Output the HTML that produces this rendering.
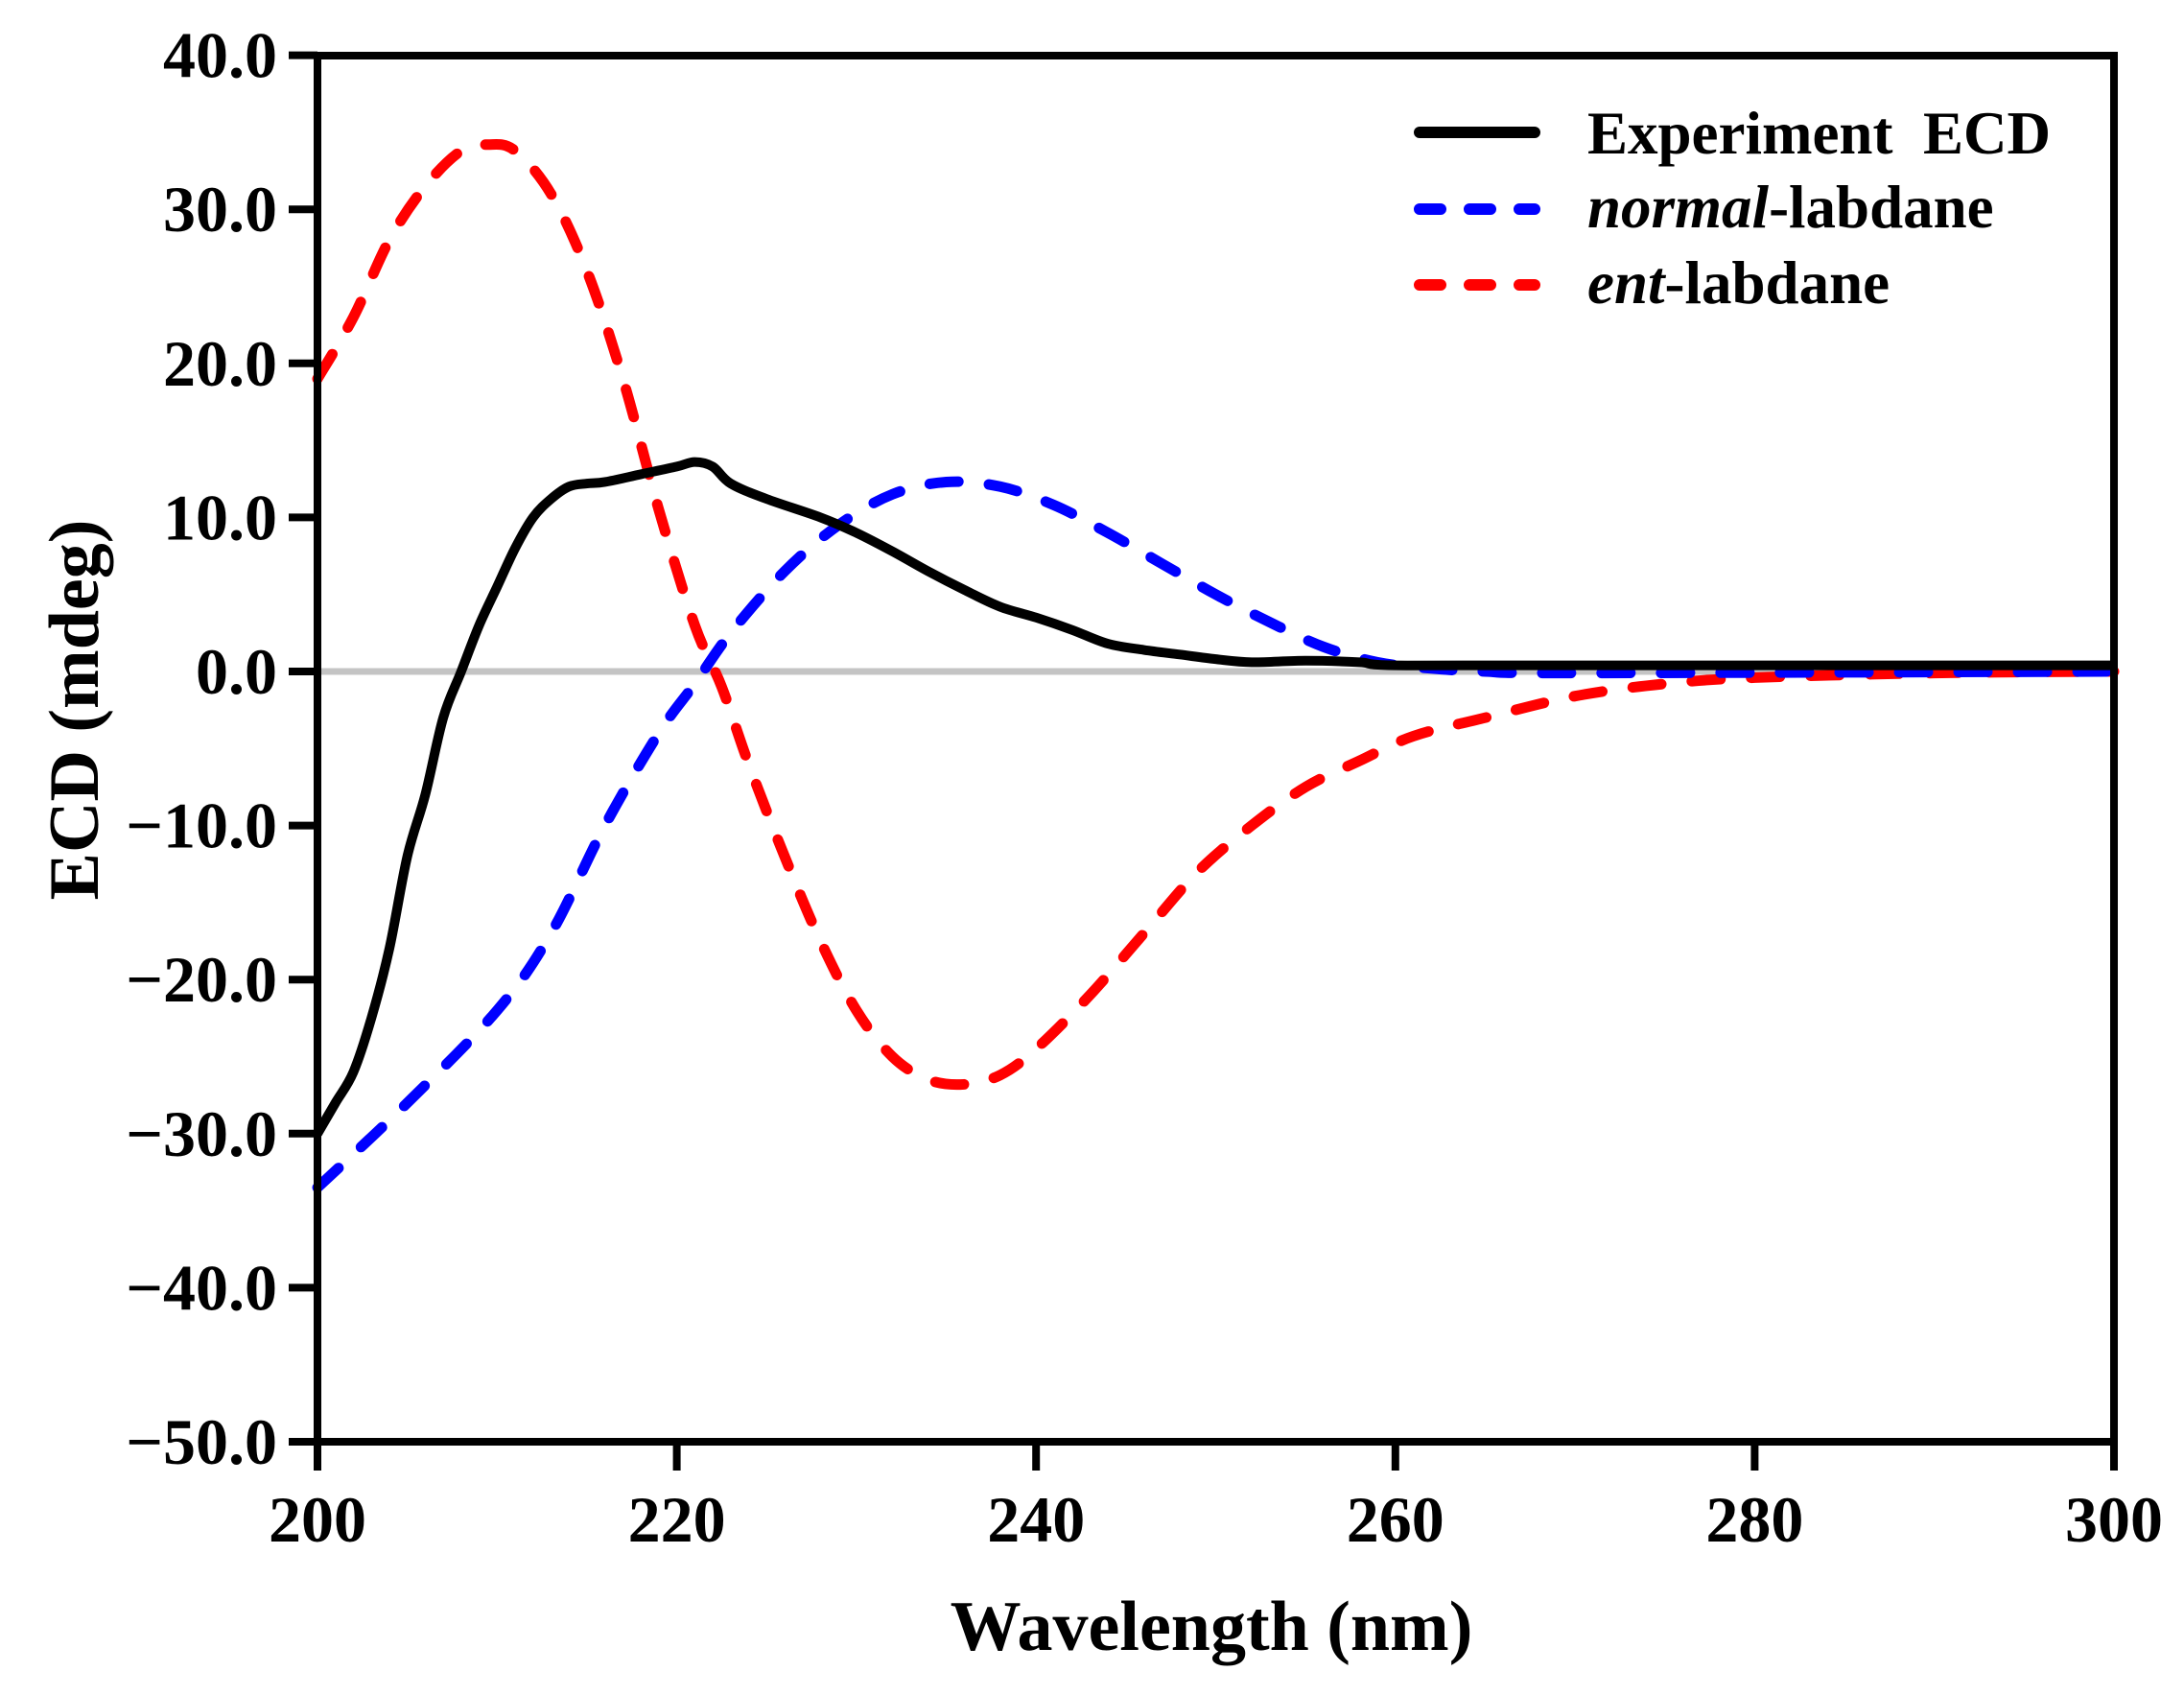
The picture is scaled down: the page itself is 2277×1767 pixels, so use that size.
<!DOCTYPE html>
<html><head><meta charset="utf-8"><style>
html,body{margin:0;padding:0;background:#fff;}
svg{display:block;}
text{font-family:"Liberation Serif",serif;font-weight:bold;fill:#000;}
</style></head><body>
<svg id="s" width="2277" height="1767" viewBox="0 0 2277 1767" xmlns="http://www.w3.org/2000/svg">
<line x1="331" y1="700" x2="2204" y2="700" stroke="#c4c4c4" stroke-width="7"/>
<g id="curves"></g>
<rect x="331" y="58" width="1873" height="1445" fill="none" stroke="#000" stroke-width="8"/>
<g id="ticks" stroke="#000" stroke-width="8"></g>
<g id="labels" font-size="68"></g>
<text x="1263" y="1720" font-size="74" text-anchor="middle">Wavelength (nm)</text>
<text transform="translate(102,740) rotate(-90)" font-size="74" text-anchor="middle">ECD (mdeg)</text>
<line x1="1480" y1="138" x2="1600" y2="138" stroke="#000" stroke-width="12" stroke-linecap="round"/>
<line x1="1480" y1="218" x2="1600" y2="218" stroke="#00f" stroke-width="12" stroke-linecap="round" stroke-dasharray="22 30"/>
<line x1="1480" y1="297" x2="1600" y2="297" stroke="#f00" stroke-width="12" stroke-linecap="round" stroke-dasharray="22 30"/>
<text x="1655" y="160" font-size="63">Experiment&#160; ECD</text>
<text x="1655" y="237" font-size="63"><tspan font-style="italic">normal</tspan>-labdane</text>
<text x="1655" y="316" font-size="63"><tspan font-style="italic">ent</tspan>-labdane</text>
</svg>
<script>
var X=function(v){return 331+(v-200)*18.73;}, Y=function(v){return 700-v*16.06;};
var NS="http://www.w3.org/2000/svg";
var t=document.getElementById('ticks'), l=document.getElementById('labels');
function el(p,n,a,txt){var e=document.createElementNS(NS,n);for(var k in a)e.setAttribute(k,a[k]);if(txt)e.textContent=txt;p.appendChild(e);return e;}
for(var v=-50;v<=40;v+=10){var y=Y(v);el(t,'line',{x1:301,y1:y,x2:331,y2:y});
el(l,'text',{x:289,y:y+23,'text-anchor':'end'},(v<0?'\u2212':'')+Math.abs(v).toFixed(1));}
for(var w=200;w<=300;w+=20){var x=X(w);el(t,'line',{x1:x,y1:1503,x2:x,y2:1533});
el(l,'text',{x:x,y:1607,'text-anchor':'middle'},String(w));}
function path(d){var p=d.map(function(q){return [X(q[0]),Y(q[1])];});var s='M'+p[0][0]+' '+p[0][1];
for(var i=0;i<p.length-1;i++){var a=p[i-1]||p[i],b=p[i],c=p[i+1],e=p[i+2]||c;
s+=' C'+(b[0]+(c[0]-a[0])/6)+' '+(b[1]+(c[1]-a[1])/6)+' '+(c[0]-(e[0]-b[0])/6)+' '+(c[1]-(e[1]-b[1])/6)+' '+c[0]+' '+c[1];}return s;}
var g=document.getElementById('curves');
var red=[[200,19],[202,23],[204,28],[206,31.5],[208,33.8],[209.5,34.2],[211,33.8],[213,31],[215,26],[217,19],[219,10.5],[221,3],[222.5,-1],[224,-6],[226,-12],[228,-17.5],[230,-22],[232,-25],[234,-26.5],[236,-26.8],[238,-26.2],[240,-24.5],[243,-21],[246,-17],[249,-13],[252,-10],[255,-7.5],[258,-5.8],[261,-4.2],[265,-3],[270,-1.6],[275,-0.8],[280,-0.4],[290,-0.1],[300,0]];
var blue=[[200,-33.5],[205,-28],[210,-22],[213,-17],[216,-10],[219,-4],[221,-0.8],[223,2.5],[226,6.5],[229,9.5],[232,11.5],[235,12.3],[238,12],[241,10.8],[244,9],[247,7],[250,5],[253,3.2],[256,1.6],[259,0.6],[262,0.2],[265,0],[270,-0.1],[300,0]];
var blk=[[200,-30],[201,-28],[202,-26],[203,-22.5],[204,-18],[205,-12],[206,-8],[207,-3],[208,0],[209,3],[210,5.5],[211,8],[212,10],[213,11.2],[214,12],[215,12.2],[216,12.3],[218,12.8],[220,13.3],[221,13.6],[222,13.3],[223,12.2],[225,11.2],[228,10],[230,9],[232,7.8],[234,6.5],[236,5.3],[238,4.2],[240,3.5],[242,2.7],[244,1.8],[246,1.4],[248,1.1],[250,0.8],[252,0.6],[255,0.7],[258,0.6],[260,0.4],[270,0.4],[300,0.4]];
el(g,'path',{d:path(red),fill:'none',stroke:'#f00','stroke-width':11,'stroke-linecap':'round','stroke-dasharray':'30 32'});
el(g,'path',{d:path(blue),fill:'none',stroke:'#00f','stroke-width':11,'stroke-linecap':'round','stroke-dasharray':'30 32'});
el(g,'path',{d:path(blk),fill:'none',stroke:'#000','stroke-width':10,'stroke-linejoin':'round'});
</script>
</body></html>
